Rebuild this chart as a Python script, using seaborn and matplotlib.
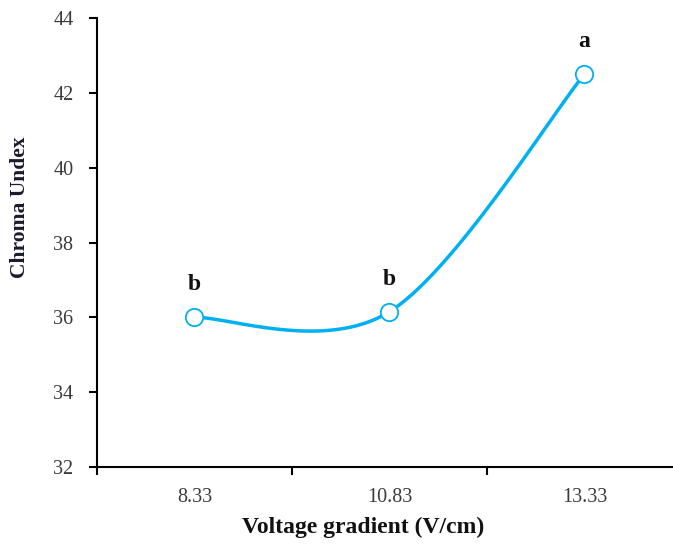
import numpy as np
import pandas as pd
import matplotlib
matplotlib.use("Agg")
import matplotlib.pyplot as plt
import seaborn as sns

categories = ["8.33", "10.83", "13.33"]
chroma = [36.0, 36.15, 42.5]
letters = ["b", "b", "a"]
yticks = [32, 34, 36, 38, 40, 42, 44]

sns.set_style("white")
plt.rcParams['font.family'] = ['Liberation Serif', 'DejaVu Serif']

LINE = "#00B0F0"

fig = plt.figure(figsize=(6.73, 5.49), dpi=100)
ax = fig.add_axes([97/673, 1 - 467/549, 1 - 97/673, (467 - 18)/549])

# Smooth (Catmull-Rom style Bezier, as in spreadsheet smoothed lines)
xs = np.arange(len(categories), dtype=float)
ys = np.array(chroma, dtype=float)
P = np.column_stack([xs, ys])
n = len(P)
curve = []
t = np.linspace(0, 1, 60)
for i in range(n - 1):
    p0 = P[i]
    p1 = P[i + 1]
    prev = P[i - 1] if i > 0 else P[i]
    nxt = P[i + 2] if i + 2 < n else P[i + 1]
    c1 = p0 + (p1 - prev) / 6.0
    c2 = p1 - (nxt - p0) / 6.0
    seg = ((1 - t)[:, None] ** 3 * p0 + 3 * ((1 - t) ** 2 * t)[:, None] * c1
           + 3 * ((1 - t) * t ** 2)[:, None] * c2 + (t ** 3)[:, None] * p1)
    curve.append(seg if i == 0 else seg[1:])
curve = np.vstack(curve)
smooth = pd.DataFrame({"x": curve[:, 0], "y": curve[:, 1]})
pts = pd.DataFrame({"x": xs, "y": ys})

sns.lineplot(data=smooth, x="x", y="y", ax=ax, color=LINE, linewidth=2.5, sort=False, zorder=2)
ax.plot(pts["x"], pts["y"], linestyle="none", marker="o", markersize=12.5,
        markerfacecolor="white", markeredgecolor=LINE, markeredgewidth=1.3, zorder=3)

for x, y, l in zip(xs, ys, letters):
    ax.annotate(l, (x, y), xytext=(0, 19.5), textcoords="offset points",
                ha="center", va="baseline", fontsize=17, fontweight="bold", color="#111111")

ax.set_xlim(-0.5, 2.454)
ax.set_ylim(32, 44)
ax.set_yticks(yticks)
ax.set_yticklabels([str(v) for v in yticks])
ax.set_xticks(xs)
ax.set_xticklabels(categories)
ax.set_xticks([-0.5, 0.5, 1.5], minor=True)
ax.tick_params(axis="x", which="major", length=0, pad=15, labelsize=14.5, labelcolor="#3a3a3a")
ax.tick_params(axis="x", which="minor", length=6, width=1.5, direction="out", color="black", bottom=True)
ax.tick_params(axis="y", which="major", length=6, width=1.5, direction="out", color="black",
               labelsize=14.5, labelcolor="#3a3a3a", left=True, pad=11)

for s in ["top", "right"]:
    ax.spines[s].set_visible(False)
for s in ["left", "bottom"]:
    ax.spines[s].set_color("black")
    ax.spines[s].set_linewidth(1.5)

ax.set_xlabel("Voltage gradient (V/cm)", fontsize=17, fontweight="bold", color="#111111", va="top")
ax.xaxis.set_label_coords((363.5 - 97) / 576, (467 - 517) / 449)
ax.set_ylabel("Chroma Undex", fontsize=15.5, fontweight="bold", color="#1a1a2e")
ax.yaxis.set_label_coords((30 - 97) / 576, (467 - 207) / 449)
ax.grid(False)

fig.savefig("out.png", dpi=100)
